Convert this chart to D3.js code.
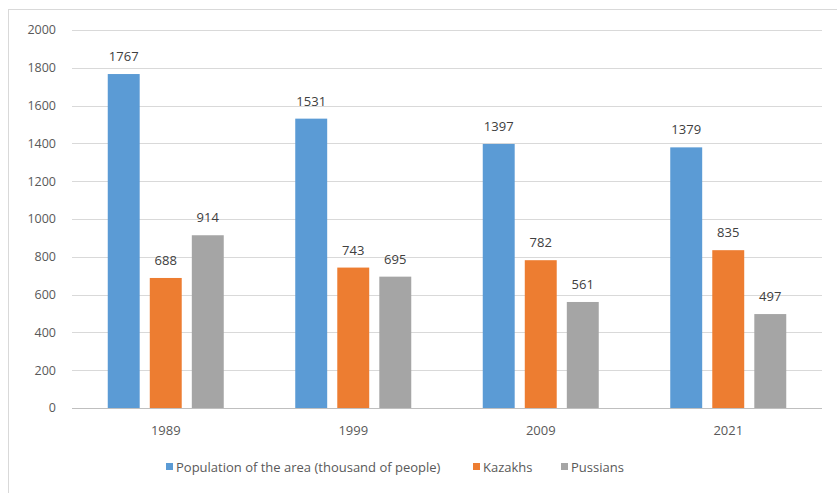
<!DOCTYPE html>
<html><head><meta charset="utf-8">
<script src="https://cdn.jsdelivr.net/npm/d3@7"></script>
<style>body{margin:0;background:#fff;}svg text{font-family:"Open Sans","DejaVu Sans",sans-serif;}</style>
</head><body><svg id="c" width="837" height="493"></svg>
<script>
const categories = ["1989","1999","2009","2021"];
const seriesNames = ["Population of the area (thousand of people)","Kazakhs","Pussians"];
const population = [1767,1531,1397,1379];
const kazakhs = [688,743,782,835];
const russians = [914,695,561,497];
const yTicks = [0,200,400,600,800,1000,1200,1400,1600,1800,2000];
const colors = ["#5B9BD5","#ED7D31","#A5A5A5"];
const series = [population,kazakhs,russians];

const svg = d3.select("#c");
svg.append("rect").attr("x",8.5).attr("y",9.5).attr("width",840).attr("height",490)
  .attr("fill","#fff").attr("stroke","#d9d9d9");
const x = d3.scaleBand().domain(categories).range([72,822]);
const y = d3.scaleLinear().domain([0,2000]).range([408,30]);
const xs = d3.scaleBand().domain([0,1,2]).range([0,116]).paddingInner(0.24);
const g = svg.append("g");
g.selectAll("line.grid").data(yTicks).join("line")
  .attr("x1",72).attr("x2",822).attr("y1",d=>Math.round(y(d))+0.5).attr("y2",d=>Math.round(y(d))+0.5)
  .attr("stroke",d=>d===0?"#bfbfbf":"#d9d9d9");
g.selectAll("text.yt").data(yTicks).join("text")
  .attr("x",56).attr("y",d=>y(d)).attr("dy","0.35em").attr("text-anchor","end")
  .attr("font-size",12.5).attr("fill","#595959").text(d=>d);
series.forEach((s,si)=>{
  const off = x.bandwidth()/2 - 58;
  g.selectAll("rect.s"+si).data(s).join("rect")
    .attr("x",(d,i)=>x(categories[i])+off+xs(si)).attr("width",xs.bandwidth())
    .attr("y",d=>y(d)).attr("height",d=>y(0)-y(d)).attr("fill",colors[si]);
  g.selectAll("text.l"+si).data(s).join("text")
    .attr("x",(d,i)=>x(categories[i])+off+xs(si)+xs.bandwidth()/2).attr("y",d=>y(d)-13)
    .attr("text-anchor","middle").attr("font-size",13).attr("fill","#404040").text(d=>d);
});
g.selectAll("text.xt").data(categories).join("text")
  .attr("x",d=>x(d)+x.bandwidth()/2).attr("y",435).attr("text-anchor","middle")
  .attr("font-size",13).attr("fill","#595959").text(d=>d);
// legend
const lg = svg.append("g");
const lx = [166,473,561];
seriesNames.forEach((n,i)=>{
  lg.append("rect").attr("x",lx[i]).attr("y",463).attr("width",7).attr("height",7).attr("fill",colors[i]);
  lg.append("text").attr("x",lx[i]+10).attr("y",467).attr("dy","0.35em").attr("font-size",13)
    .attr("fill","#595959").text(n);
});
</script></body></html>
